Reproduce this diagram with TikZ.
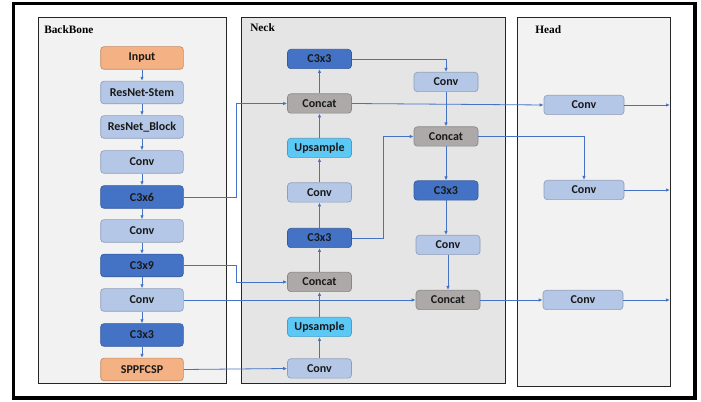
\documentclass[tikz,border=0pt]{standalone}
\usepackage{fontspec}
\setmainfont{Carlito}
\newfontfamily\titlefont{Liberation Serif}
\usetikzlibrary{arrows.meta}
\definecolor{convblue}{HTML}{B4C7E7}
\definecolor{cthree}{HTML}{4472C4}
\definecolor{catgray}{HTML}{ADA9A9}
\definecolor{upcyan}{HTML}{5BC8F5}
\definecolor{ioorange}{HTML}{F4B183}
\definecolor{linkblue}{HTML}{4472C4}
\tikzset{
  blk/.style={rounded corners=2.5pt,draw=#1!80!black,fill=#1,line width=0.5pt,
    font=\fontsize{9}{10}\selectfont\bfseries,text=black!90,inner sep=0pt},
  bbox/.style={blk=#1,minimum width=62pt,minimum height=17pt},
  nbox/.style={blk=#1,minimum width=48pt,minimum height=14.5pt},
  hbox/.style={blk=#1,minimum width=60pt,minimum height=14.5pt},
  link/.style={draw=linkblue,line width=0.6pt,-{Latex[length=3pt,width=2.6pt]}},
  panel/.style={draw=black!85,line width=0.6pt,fill=#1},
  ptitle/.style={anchor=north west,inner sep=0pt,font=\titlefont\fontsize{8.5}{10}\selectfont\bfseries}
}
\begin{document}
\begin{tikzpicture}[x=0.75pt,y=-0.75pt]
\useasboundingbox (0,0) rectangle (701,402);
\draw[line width=2.4pt] (13.5,3.5) rectangle (695,398);
% panels
\draw[panel=black!5] (38,17) rectangle (226,383);
\draw[panel=black!10] (241,17) rectangle (505,383);
\draw[panel=black!5] (517,17) rectangle (670,386);
\node[ptitle] (tbb) at (44,25){BackBone};
\node[ptitle] (tnk) at (250,23){Neck};
\node[ptitle] (thd) at (535,25){Head};
% backbone
\node[bbox=ioorange] (inp) at (142,58){Input};
\node[bbox=convblue] (stem) at (142,92.5){ResNet-Stem};
\node[bbox=convblue] (rblk) at (142,127){ResNet\_Block};
\node[bbox=convblue] (bconv1) at (142,162){Conv};
\node[bbox=cthree] (c3x6) at (142,197){C3x6};
\node[bbox=convblue] (bconv2) at (142,231){Conv};
\node[bbox=cthree] (c3x9) at (142,265.5){C3x9};
\node[bbox=convblue] (bconv3) at (142,300){Conv};
\node[bbox=cthree] (bc3x3) at (142,335){C3x3};
\node[bbox=ioorange] (spp) at (142,369.5){SPPFCSP};
\foreach \a/\b in {inp/stem,stem/rblk,rblk/bconv1,bconv1/c3x6,c3x6/bconv2,bconv2/c3x9,c3x9/bconv3,bconv3/bc3x3,bc3x3/spp}
  \draw[link] (\a) -- (\b);
% neck, left column
\node[nbox=cthree] (nc3a) at (319.5,59){C3x3};
\node[nbox=catgray] (ncat1) at (319.5,103.5){Concat};
\node[nbox=upcyan] (nup1) at (319.5,148){Upsample};
\node[nbox=convblue] (nconv1) at (319.5,192.5){Conv};
\node[nbox=cthree] (nc3b) at (319.5,238){C3x3};
\node[nbox=catgray] (ncat2) at (319.5,282){Concat};
\node[nbox=upcyan] (nup2) at (319.5,327){Upsample};
\node[nbox=convblue] (nconv2) at (319.5,368.5){Conv};
\foreach \a/\b in {nconv2/nup2,nup2/ncat2,ncat2/nc3b,nc3b/nconv1,nconv1/nup1,nup1/ncat1,ncat1/nc3a}
  \draw[link] (\a) -- (\b);
% neck, right column
\node[nbox=convblue] (nconv3) at (446,82){Conv};
\node[nbox=catgray] (ncat3) at (446,136.5){Concat};
\node[nbox=cthree] (nc3c) at (446,190.5){C3x3};
\node[nbox=convblue] (nconv4) at (448,245){Conv};
\node[nbox=catgray] (ncat4) at (448,300){Concat};
\draw[link] (nc3a.east) -| (nconv3.north);
\draw[link] (nconv3) -- (ncat3);
\draw[link] (ncat3) -- (nc3c);
\draw[link] (nc3c.south) -- (nconv4.north -| nc3c.south);
\draw[link] (nconv4) -- (ncat4);
\draw[link] (nc3b.east) -- ++(31.5,0) |- (ncat3.west);
% backbone to neck
\draw[link] (c3x6.east) -- ++(52.5,0) |- (ncat1.west);
\draw[link] (c3x9.east) -- ++(52.5,0) |- (ncat2.west);
\draw[link] (bconv3.east) -- (ncat4.west);
\draw[link] (spp.east) -- (nconv2.west);
% head
\node[hbox=convblue] (hconv1) at (584,105){Conv};
\node[hbox=convblue] (hconv2) at (584,190){Conv};
\node[hbox=convblue] (hconv3) at (583,300){Conv};
\coordinate (out1) at (670,105);
\coordinate (out2) at (670,190);
\coordinate (out3) at (670,300);
\draw[link] (ncat1.east) -- (hconv1.west);
\draw[link] (ncat3.east) -| (hconv2.north);
\draw[link] (ncat4.east) -- (hconv3.west);
\draw[link] (hconv1.east) -- (out1);
\draw[link] (hconv2.east) -- (out2);
\draw[link] (hconv3.east) -- (out3);
\end{tikzpicture}
\end{document}
